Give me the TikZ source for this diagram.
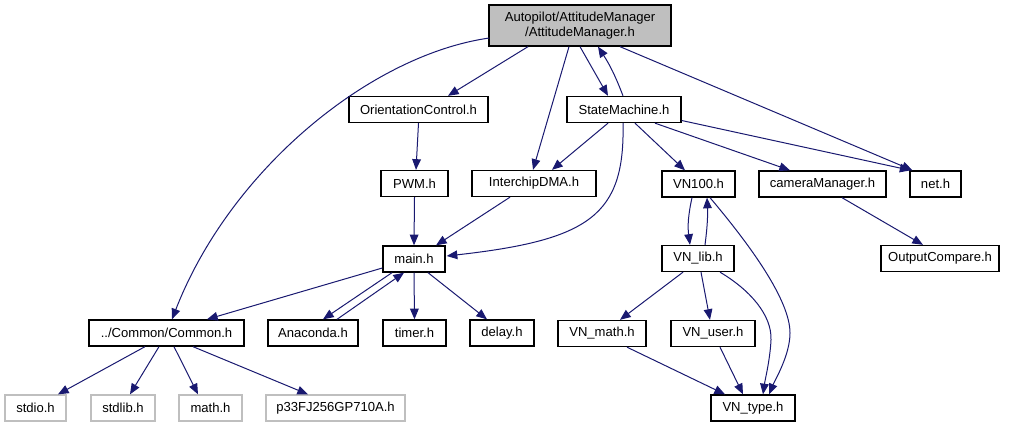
\documentclass[tikz,border=0pt]{standalone}
\usepackage{fontspec}
\setmainfont{Liberation Sans}
\usetikzlibrary{arrows.meta,calc}
\definecolor{edgeblue}{HTML}{191970}
\definecolor{grayborder}{HTML}{BFBFBF}
\definecolor{rootfill}{HTML}{BFBFBF}
\begin{document}
\begin{tikzpicture}[x=0.75pt,y=-0.75pt,
  box/.style={draw=black,line width=1pt,fill=white,inner sep=0pt,minimum height=19.5pt,font=\fontsize{9.8pt}{11pt}\selectfont},
  sysbox/.style={box,draw=grayborder},
  rootbox/.style={box,fill=rootfill,minimum height=30.75pt,align=center},
  edge/.style={draw=edgeblue,line width=0.75pt,-{Triangle[length=8pt,width=6.5pt]}}]
\useasboundingbox (0,0) rectangle (1012,427);
% nodes
\node[rootbox,minimum width=136.5pt] (root) at (580,25.5) {Autopilot/AttitudeManager\\/AttitudeManager.h};
\node[box,minimum width=104.25pt] (orient) at (418.5,109.5) {OrientationControl.h};
\node[box,minimum width=85.5pt] (sm) at (624,109.5) {StateMachine.h};
\node[box,minimum width=50.25pt] (pwm) at (414.5,183.5) {PWM.h};
\node[box,minimum width=93pt] (dma) at (534,183.5) {InterchipDMA.h};
\node[box,minimum width=54.75pt] (vn100) at (698.5,184) {VN100.h};
\node[box,minimum width=95.25pt] (cam) at (822.5,184) {cameraManager.h};
\node[box,minimum width=38.25pt] (net) at (935.5,184) {net.h};
\node[box,minimum width=46.5pt] (main) at (414,259) {main.h};
\node[box,minimum width=54pt] (vnlib) at (698,258.5) {VN\_lib.h};
\node[box,minimum width=88.5pt] (oc) at (940,258.5) {OutputCompare.h};
\node[box,minimum width=116.25pt] (common) at (166.5,333) {../Common/Common.h};
\node[box,minimum width=67.5pt] (anaconda) at (313,333) {Anaconda.h};
\node[box,minimum width=47.25pt] (timer) at (414.5,333) {timer.h};
\node[box,minimum width=48pt] (delay) at (502,333) {delay.h};
\node[box,minimum width=66pt] (vnmath) at (602,333.5) {VN\_math.h};
\node[box,minimum width=63pt] (vnuser) at (713,333.5) {VN\_user.h};
\node[sysbox,minimum width=45.75pt] (stdio) at (35.5,408) {stdio.h};
\node[sysbox,minimum width=48pt] (stdlib) at (123,408) {stdlib.h};
\node[sysbox,minimum width=47.25pt] (math) at (210.5,408) {math.h};
\node[sysbox,minimum width=104.25pt] (p33) at (335.5,408) {p33FJ256GP710A.h};
\node[box,minimum width=63pt] (vntype) at (753,408) {VN\_type.h};
% edges
\draw[edge] ($(root.west)+(1,12.5)$) .. controls (370,55) and (230,170) .. ($(common.north)+(5.5,0)$);
\draw[edge] ($(root.south)+(-52,0)$) -- ($(orient.north)+(29.5,0)$);
\draw[edge] ($(root.south)+(-11,0)$) -- ($(dma.north)+(-1,0)$);
\draw[edge] (root.south) -- ($(sm.north)+(-16,0)$);
\draw[edge] ($(sm.north)+(-1,0)$) to[bend right=6] ($(root.south)+(18,0)$);
\draw[edge] ($(root.south)+(40,0)$) -- ($(net.north)+(-23,0)$);
\draw[edge] ($(sm.east)+(0,11)$) -- ($(net.north)+(-25,0)$);
\draw[edge] ($(sm.south)+(31,0)$) -- ($(cam.north)+(-32.5,0)$);
\draw[edge] ($(sm.south)+(11,0)$) -- ($(vn100.north)+(-13.5,0)$);
\draw[edge] ($(sm.south)+(-16,0)$) -- ($(dma.north)+(18,0)$);
\draw[edge] ($(sm.south)+(-1,0)$) .. controls (625,215) and (590,240) .. ($(main.east)+(1,-3)$);
\draw[edge] (orient.south) -- ($(pwm.north)+(1.5,0)$);
\draw[edge] (pwm.south) -- (main.north);
\draw[edge] ($(dma.south)+(-24,0)$) -- ($(main.north)+(22,0)$);
\draw[edge] ($(main.west)+(0,9)$) -- ($(common.north)+(40.5,0)$);
\draw[edge] ($(main.south)+(-22,0)$) -- ($(anaconda.north)+(10,0)$);
\draw[edge] ($(anaconda.north)+(24,0)$) -- ($(main.south)+(-10,0)$);
\draw[edge] (main.south) -- (timer.north);
\draw[edge] ($(main.south)+(14,0)$) -- ($(delay.north)+(-15,0)$);
\draw[edge] ($(common.south)+(-21.5,0)$) -- ($(stdio.north)+(22.5,0)$);
\draw[edge] ($(common.south)+(-7.5,0)$) -- ($(stdlib.north)+(7,0)$);
\draw[edge] ($(common.south)+(7.5,0)$) -- ($(math.north)+(-12.5,0)$);
\draw[edge] ($(common.south)+(26.5,0)$) -- ($(p33.north)+(-27.5,0)$);
\draw[edge] ($(vn100.south)+(-6.5,0)$) to[bend right=10] ($(vnlib.north)+(-8,0)$);
\draw[edge] ($(vnlib.north)+(7,0)$) to[bend right=5] ($(vn100.south)+(8.5,0)$);
\draw[edge] ($(vn100.south)+(11.5,0)$) .. controls (750,245) and (790,300) .. (790,333) .. controls (790,355) and (775,380) .. ($(vntype.north)+(16,0)$);
\draw[edge] ($(vnlib.south)+(22,0)$) .. controls (750,290) and (772,315) .. (771,340) .. controls (770,360) and (765,380) .. ($(vntype.north)+(10,0)$);
\draw[edge] ($(vnlib.south)+(-15,0)$) -- ($(vnmath.north)+(18,0)$);
\draw[edge] ($(vnlib.south)+(3,0)$) -- ($(vnuser.north)+(-3,0)$);
\draw[edge] ($(vnmath.south)+(25,0)$) -- ($(vntype.north)+(-28,0)$);
\draw[edge] ($(vnuser.south)+(7,0)$) -- ($(vntype.north)+(-10,0)$);
\draw[edge] ($(cam.south)+(19.5,0)$) -- ($(oc.north)+(-17,0)$);
\end{tikzpicture}
\end{document}
